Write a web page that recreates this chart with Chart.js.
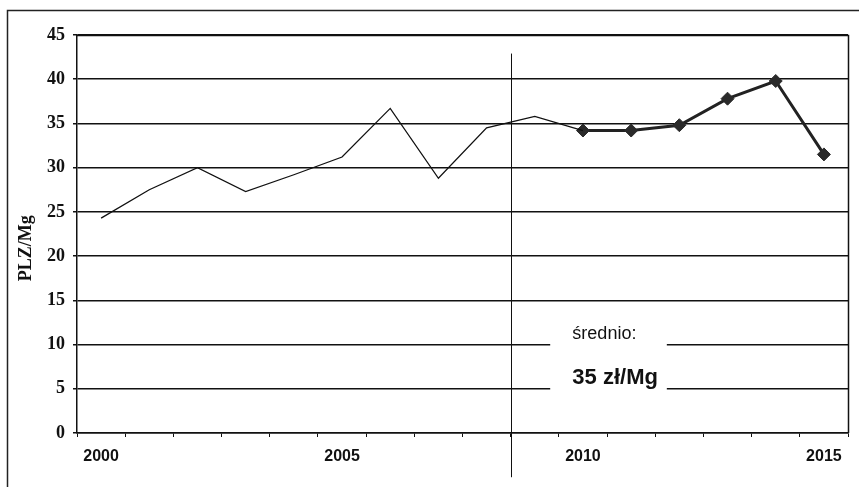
<!DOCTYPE html>
<html><head><meta charset="utf-8">
<script src="https://cdn.jsdelivr.net/npm/chart.js@4/dist/chart.umd.min.js"></script>
<style>html,body{margin:0;padding:0;background:#fff}#wrap{width:859px;height:493px}</style>
</head><body><div id="wrap"><canvas id="c" width="859" height="493"></canvas></div>
<script>
const years = ['2000','2001','2002','2003','2004','2005','2006','2007','2008','2009','2010','2011','2012','2013','2014','2015'];
const historyValues = [24.3, 27.5, 30.0, 27.3, 29.2, 31.2, 36.7, 28.8, 34.5, 35.8, 34.2, null, null, null, null, null];
const recentValues = [null, null, null, null, null, null, null, null, null, null, 34.2, 34.2, 34.8, 37.8, 39.8, 31.5];
const shownYearLabels = ['2000','2005','2010','2015'];
const yTickValues = [0, 5, 10, 15, 20, 25, 30, 35, 40, 45];
const yAxisTitle = 'PLZ/Mg';
const avgLabel = 'średnio:';
const avgValueLabel = '35 zł/Mg';

const decor = {
  id: 'decor',
  afterDatasetsDraw(chart) {
    const {ctx, scales: {x, y}} = chart;
    ctx.save();
    const bx0 = x.getPixelForValue(9.32), bx1 = x.getPixelForValue(11.74);
    const by0 = y.getPixelForValue(12.5), by1 = y.getPixelForValue(3.5);
    ctx.fillStyle = '#fff';
    ctx.fillRect(bx0, by0, bx1 - bx0, by1 - by0);
    ctx.fillStyle = '#111';
    ctx.textBaseline = 'alphabetic';
    ctx.textAlign = 'left';
    const tx = x.getPixelForValue(9.78);
    ctx.font = '18px "Liberation Sans", Arial, sans-serif';
    ctx.fillText(avgLabel, tx, y.getPixelForValue(10.6));
    ctx.font = 'bold 22px "Liberation Sans", Arial, sans-serif';
    ctx.fillText(avgValueLabel, tx, y.getPixelForValue(5.5));
    // y axis title
    ctx.save();
    ctx.translate(26, y.getPixelForValue(20.9));
    ctx.rotate(-Math.PI / 2);
    ctx.textAlign = 'center';
    ctx.textBaseline = 'middle';
    ctx.font = 'bold 18px "Liberation Serif", "Times New Roman", serif';
    ctx.fillText(yAxisTitle, 0, 0);
    ctx.restore();
    ctx.restore();
  },
  afterDraw(chart) {
    const {ctx, chartArea: a, scales: {x, y}} = chart;
    ctx.save();
    ctx.strokeStyle = '#111';
    ctx.lineWidth = 1.5;
    ctx.beginPath();
    ctx.moveTo(a.left, Math.round(a.top) + 0.5);
    ctx.lineTo(Math.round(a.right) + 0.5, Math.round(a.top) + 0.5);
    ctx.lineTo(Math.round(a.right) + 0.5, a.bottom);
    ctx.stroke();
    ctx.lineWidth = 1;
    const vx = Math.round((x.getPixelForValue(8) + x.getPixelForValue(9)) / 2) + 0.5;
    ctx.beginPath();
    ctx.moveTo(vx, y.getPixelForValue(42.9));
    ctx.lineTo(vx, y.getPixelForValue(-5));
    ctx.stroke();
    ctx.lineWidth = 1.5;
    ctx.strokeStyle = '#222';
    ctx.beginPath();
    ctx.moveTo(7.5, 487);
    ctx.lineTo(7.5, 10.5);
    ctx.lineTo(859, 10.5);
    ctx.stroke();
    ctx.restore();
  }
};

new Chart(document.getElementById('c'), {
  type: 'line',
  data: {
    labels: years,
    datasets: [
      { data: historyValues, borderColor: '#111', borderWidth: 1.3, pointRadius: 0, tension: 0, spanGaps: false },
      { data: recentValues, borderColor: '#222', borderWidth: 3, pointStyle: 'rectRot', pointRadius: 6.5,
        pointBackgroundColor: '#2a2a2a', pointBorderColor: '#2a2a2a', pointBorderWidth: 1, tension: 0 }
    ]
  },
  options: {
    responsive: false,
    animation: false,
    devicePixelRatio: 1,
    layout: { padding: { left: 0, right: 11, top: 35, bottom: 0 } },
    plugins: { legend: { display: false }, tooltip: { enabled: false } },
    scales: {
      x: {
        type: 'category',
        offset: true,
        afterFit: (s) => { s.height = 60; },
        grid: { offset: true, drawOnChartArea: false, color: '#111', tickLength: 4, lineWidth: 1 },
        border: { color: '#111', width: 1.5 },
        ticks: {
          autoSkip: false, maxRotation: 0, padding: 10, color: '#111',
          font: { family: '"Liberation Sans", Arial, sans-serif', size: 16, weight: 'bold' },
          callback: function (v) { const l = this.getLabelForValue(v); return shownYearLabels.includes(l) ? l : ''; }
        }
      },
      y: {
        min: 0, max: 45,
        afterFit: (s) => { s.width = 77; },
        afterBuildTicks: (s) => { s.ticks = yTickValues.map(v => ({ value: v })); },
        grid: { color: '#111', lineWidth: 1.5, tickLength: 4 },
        border: { color: '#111', width: 1.5 },
        ticks: {
          padding: 8, color: '#111',
          font: { family: '"Liberation Serif", "Times New Roman", serif', size: 18, weight: 'bold' }
        }
      }
    }
  },
  plugins: [decor]
});
</script></body></html>
